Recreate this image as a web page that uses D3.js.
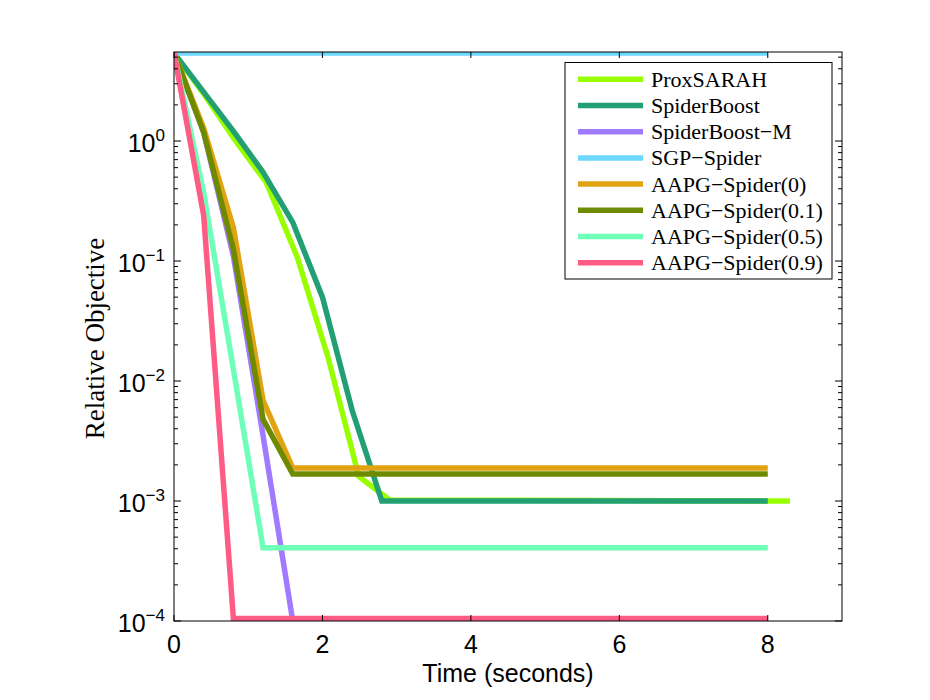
<!DOCTYPE html>
<html><head><meta charset="utf-8">
<script src="https://cdn.jsdelivr.net/npm/d3@7/dist/d3.min.js"></script>
<style>body{margin:0;background:#fff}</style>
</head><body><svg id="c" width="930" height="700"></svg>
<script>
// ---- data ----
const seriesNames = ["ProxSARAH","SpiderBoost","SpiderBoost\u2212M","SGP\u2212Spider",
  "AAPG\u2212Spider(0)","AAPG\u2212Spider(0.1)","AAPG\u2212Spider(0.5)","AAPG\u2212Spider(0.9)"];
const seriesColors = ["#99ff00","#22a073","#a07bff","#6cd8ff","#e2a312","#6e8b00","#6effb8","#ff5c85"];

const tProxSARAH = [0,0.415,0.83,1.245,1.66,2.075,2.49,2.905,8.3];
const yProxSARAH = [5.41,2.4,1.0,0.45,0.108,0.0158,0.0016,0.00102,0.001];
const tSpiderBoost = [0,0.4,0.8,1.2,1.6,2.0,2.4,2.8,8];
const ySpiderBoost = [5.41,2.56,1.21,0.55,0.21,0.05,0.0057,0.001,0.001];
const tSpiderBoostM = [0,0.4,0.8,1.2,1.6];
const ySpiderBoostM = [5.41,1.18,0.11,0.0035,0.0001];
const tSGP = [0,8];
const ySGP = [5.41,5.41];
const tAAPG0 = [0,0.4,0.8,1.2,1.6,8];
const yAAPG0 = [5.41,1.28,0.19,0.0069,0.00188,0.00188];
const tAAPG01 = [0,0.4,0.8,1.2,1.6,8];
const yAAPG01 = [5.41,1.18,0.125,0.0048,0.00168,0.00168];
const tAAPG05 = [0,0.4,0.8,1.2,8];
const yAAPG05 = [5.41,0.37,0.0125,0.000407,0.000407];
const tAAPG09 = [0,0.4,0.8,8];
const yAAPG09 = [5.41,0.24,0.000105,0.000105];

const seriesT = [tProxSARAH,tSpiderBoost,tSpiderBoostM,tSGP,tAAPG0,tAAPG01,tAAPG05,tAAPG09];
const seriesY = [yProxSARAH,ySpiderBoost,ySpiderBoostM,ySGP,yAAPG0,yAAPG01,yAAPG05,yAAPG09];

const xTicks = [0,2,4,6,8];
const yTickExps = [0,-1,-2,-3,-4];
const xDomain = [0,9];
const yDomain = [1e-4,5.52];

// ---- layout ----
const L=174, R=842, T=52, B=621;
const svg = d3.select("#c");
const x = d3.scaleLinear().domain(xDomain).range([L,R]);
const y = d3.scaleLog().domain(yDomain).range([B,T]);

svg.append("defs").append("clipPath").attr("id","clip")
  .append("rect").attr("x",L).attr("y",T).attr("width",R-L).attr("height",B-T);

// lines
const line = d3.line().x(d=>x(d[0])).y(d=>y(d[1]));
const g = svg.append("g").attr("clip-path","url(#clip)");
seriesNames.forEach((n,i)=>{
  const pts = seriesT[i].map((t,j)=>[t,seriesY[i][j]]);
  g.append("path").datum(pts).attr("d",line)
    .attr("fill","none").attr("stroke",seriesColors[i])
    .attr("stroke-width",5.5).attr("stroke-linejoin","miter");
});

// axes frame
const frame = svg.append("g").attr("stroke","#000").attr("stroke-width",1).attr("fill","none");
frame.append("rect").attr("x",L).attr("y",T).attr("width",R-L).attr("height",B-T);

// x ticks (inward, bottom & top)
xTicks.forEach(v=>{
  frame.append("line").attr("x1",x(v)).attr("x2",x(v)).attr("y1",B).attr("y2",B-6);
  frame.append("line").attr("x1",x(v)).attr("x2",x(v)).attr("y1",T).attr("y2",T+6);
});
// y ticks: majors and minors (inward, left & right)
const allTicks = [];
for (let e=-4; e<=0; e++) for (let m=1; m<=9; m++) {
  const v = m*Math.pow(10,e);
  if (v>=yDomain[0]*0.999 && v<=yDomain[1]) allTicks.push([v,m===1]);
}
allTicks.forEach(([v,major])=>{
  const len = major?7:4;
  const yy = y(v);
  frame.append("line").attr("x1",L).attr("x2",L+len).attr("y1",yy).attr("y2",yy);
  frame.append("line").attr("x1",R).attr("x2",R-len).attr("y1",yy).attr("y2",yy);
});

// x tick labels
svg.append("g").selectAll("text").data(xTicks).join("text")
  .attr("x",d=>x(d)).attr("y",653).attr("text-anchor","middle")
  .attr("font-family","Liberation Sans, Arial, sans-serif").attr("font-size",25)
  .text(d=>d);

// y tick labels
yTickExps.forEach(e=>{
  const t = svg.append("text").attr("x",165).attr("y",y(Math.pow(10,e))+11)
    .attr("text-anchor","end")
    .attr("font-family","Liberation Sans, Arial, sans-serif").attr("font-size",25);
  t.append("tspan").text("10");
  t.append("tspan").attr("dy",-11).attr("font-size",17).text(e===0?"0":"\u2212"+(-e));
});

// axis labels
svg.append("text").attr("x",(L+R)/2).attr("y",682).attr("text-anchor","middle")
  .attr("font-family","Liberation Sans, Arial, sans-serif").attr("font-size",25)
  .text("Time (seconds)");
svg.append("text").attr("transform",`translate(104,${(T+B)/2 + 2}) rotate(-90)`)
  .attr("text-anchor","middle")
  .attr("font-family","Liberation Serif, Times New Roman, serif").attr("font-size",27)
  .text("Relative Objective");

// legend
const lg = svg.append("g");
lg.append("rect").attr("x",565).attr("y",62.5).attr("width",267).attr("height",216.5)
  .attr("fill","#fff").attr("stroke","#000").attr("stroke-width",1);
seriesNames.forEach((n,i)=>{
  const yy = 79.3 + i*26.2;
  lg.append("line").attr("x1",578).attr("x2",643).attr("y1",yy).attr("y2",yy)
    .attr("stroke",seriesColors[i]).attr("stroke-width",5.5);
  lg.append("text").attr("x",651).attr("y",yy+7.5).attr("font-family","Liberation Serif, Times New Roman, serif")
    .attr("font-size",22).text(n);
});
</script></body></html>
